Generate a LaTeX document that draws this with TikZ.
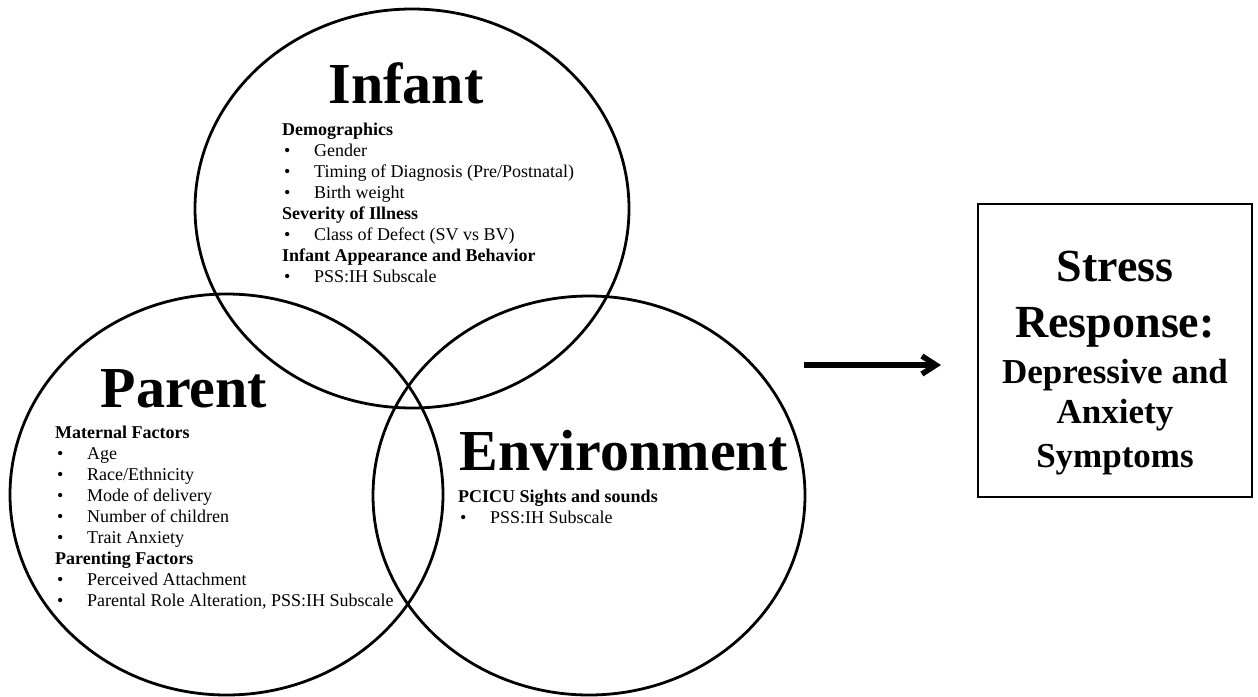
\documentclass[tikz,border=0pt]{standalone}
\usepackage{fontspec}
\setmainfont{Liberation Serif}
\usetikzlibrary{shapes.geometric,arrows.meta}
\newcommand\myhd[1]{\textbf{#1}}
\newcommand\mybl[1]{\makebox[32pt][l]{\hspace{2pt}\textbullet}#1}
\tikzset{
  venn/.style={draw, ellipse, line width=2.8pt, inner sep=0pt},
  bigtitle/.style={anchor=base, inner sep=0pt, font=\fontsize{58}{60}\selectfont\bfseries},
  item/.style={anchor=base west, inner sep=0pt, font=\fontsize{18}{21}\selectfont},
  boxbig/.style={anchor=base, inner sep=0pt, font=\fontsize{46}{50}\selectfont\bfseries},
  boxsmall/.style={anchor=base, inner sep=0pt, font=\fontsize{35}{40}\selectfont\bfseries},
}
\begin{document}
\begin{tikzpicture}[x=1pt,y=-1pt]
\useasboundingbox (0,0) rectangle (1258,696);
% circles
\node[venn, minimum width=434pt, minimum height=399pt] (infant) at (412,208.5) {};
\node[venn, minimum width=433pt, minimum height=401pt] (parent) at (226.5,494.5) {};
\node[venn, minimum width=432pt, minimum height=399pt] (env) at (589,495.5) {};
% titles
\node[bigtitle] (tinf) at (406,103) {Infant};
\node[bigtitle] (tpar) at (184,407) {Parent};
\node[bigtitle] (tenv) at (623.5,470) {Environment};
% infant list
\foreach \txt [count=\i from 0] in {\myhd{Demographics},\mybl{Gender},\mybl{Timing of Diagnosis (Pre/Postnatal)},\mybl{Birth weight},\myhd{Severity of Illness},\mybl{Class of Defect (SV vs BV)},\myhd{Infant Appearance and Behavior},\mybl{PSS:IH Subscale}}
  \node[item] (inf\i) at (282,{135+21.1*\i}) {\txt};
% parent list
\foreach \txt [count=\i from 0] in {\myhd{Maternal Factors},\mybl{Age},\mybl{Race/Ethnicity},\mybl{Mode of delivery},\mybl{Number of children},\mybl{Trait Anxiety},\myhd{Parenting Factors},\mybl{Perceived Attachment},{\mybl{Parental Role Alteration, PSS:IH Subscale}}}
  \node[item] (par\i) at (55,{438+21*\i}) {\txt};
% environment list
\node[item] (env0) at (458,502) {\myhd{PCICU Sights and sounds}};
\node[item] (env1) at (458,523) {\mybl{PSS:IH Subscale}};
% arrow
\coordinate (as) at (804,365);
\coordinate (ae) at (941,365);
\draw[line width=5.5pt, -{Straight Barb[length=14pt,width=18pt]}] (as) -- (ae);
% outcome box
\node[draw, line width=2.8pt, minimum width=274pt, minimum height=293pt, inner sep=0pt] (box) at (1115,350.5) {};
\node[boxbig] (b1) at (1115,281) {Stress};
\node[boxbig] (b2) at (1115,337) {Response:};
\node[boxsmall] (b3) at (1115,383) {Depressive and};
\node[boxsmall] (b4) at (1115,423) {Anxiety};
\node[boxsmall] (b5) at (1115,467) {Symptoms};
\end{tikzpicture}
\end{document}
